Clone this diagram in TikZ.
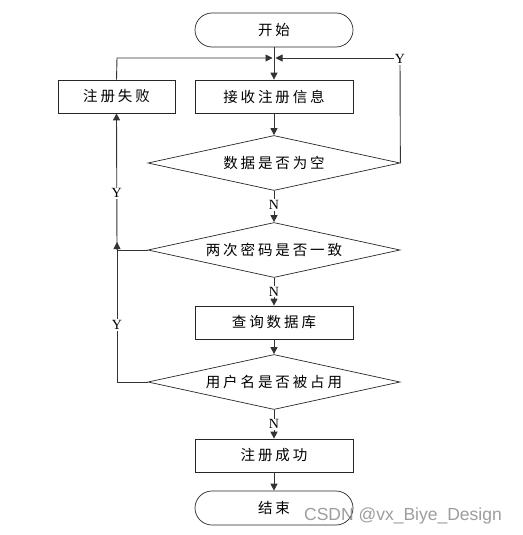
\documentclass[tikz,border=0pt]{standalone}
\usepackage{fontspec}
\setmainfont{Liberation Serif}
\newfontfamily\cjk[LetterSpace=20]{Noto Sans CJK SC}
\newfontfamily\wmfont{Liberation Sans}
\usetikzlibrary{shapes.geometric,arrows.meta}
\begin{document}
\begin{tikzpicture}[x=1pt,y=-1pt,
  every node/.style={font=\cjk\fontsize{14.5}{16}\selectfont},
  proc/.style={draw=black!85,line width=0.7pt,rectangle,minimum width=158pt,minimum height=33pt,inner sep=0pt},
  term/.style={draw=black!85,line width=0.7pt,rectangle,rounded corners=17pt,minimum width=158pt,minimum height=34pt,inner sep=0pt},
  dec/.style={draw=black!85,line width=0.7pt,diamond,aspect=4.58,minimum width=252pt,minimum height=55pt,inner sep=0pt},
  conn/.style={draw=black!80,line width=0.9pt},
  arr/.style={conn,-{Triangle[length=7pt,width=7pt]}},
  lbl/.style={font=\fontsize{14}{15}\selectfont,fill=white,inner sep=1pt}]
\useasboundingbox (0,0) rectangle (522,535);
\node[term] (start) at (274,30) {开始};
\node[proc] (recv) at (274,96.5) {接收注册信息};
\node[proc,minimum width=117pt] (fail) at (116.5,96.5) {注册失败};
\node[dec] (d1) at (274,163) {数据是否为空};
\node[dec] (d2) at (274,250) {两次密码是否一致};
\node[proc] (query) at (274,322.5) {查询数据库};
\node[dec] (d3) at (274,382) {用户名是否被占用};
\node[proc] (ok) at (274,455.5) {注册成功};
\node[term] (end) at (274,508) {结束};
\coordinate (m) at (274,58);
\coordinate (ml) at (272.5,58);
\coordinate (mr) at (275.5,58);
\coordinate (rc) at (400,58);
\coordinate (lc) at (117,58);
\coordinate (j2) at (117,250);
\coordinate (j2tip) at (117,242);
\coordinate (j3) at (117,382);
% main flow
\draw[arr] (start) -- (recv);
\draw[arr] (recv) -- (d1);
\draw[arr] (d1) -- node[lbl,pos=0.45]{N} (d2);
\draw[arr] (d2) -- node[lbl,pos=0.5]{N} (query);
\draw[arr] (query) -- (d3);
\draw[arr] (d3) -- node[lbl,pos=0.5]{N} (ok);
\draw[arr] (ok) -- (end);
% loops
\draw[arr] (fail.north) -- (lc) -- (ml);
\draw[conn] (d1.east) -- (rc);
\draw[arr] (rc) -- (mr);
\node[lbl] at (400,59) {Y};
\draw[conn] (d2.west) -- (j2);
\draw[arr] (j2) -- node[lbl,pos=0.416]{Y} (fail.south);
\draw[arr] (d3.west) -- (j3) -- node[lbl,pos=0.407]{Y} (j2tip);
\node[font=\wmfont\fontsize{17.5}{18}\selectfont,text=black!45,opacity=0.85,inner sep=0pt] (wm) at (403,516) {CSDN @vx\_Biye\_Design};
\end{tikzpicture}
\end{document}
